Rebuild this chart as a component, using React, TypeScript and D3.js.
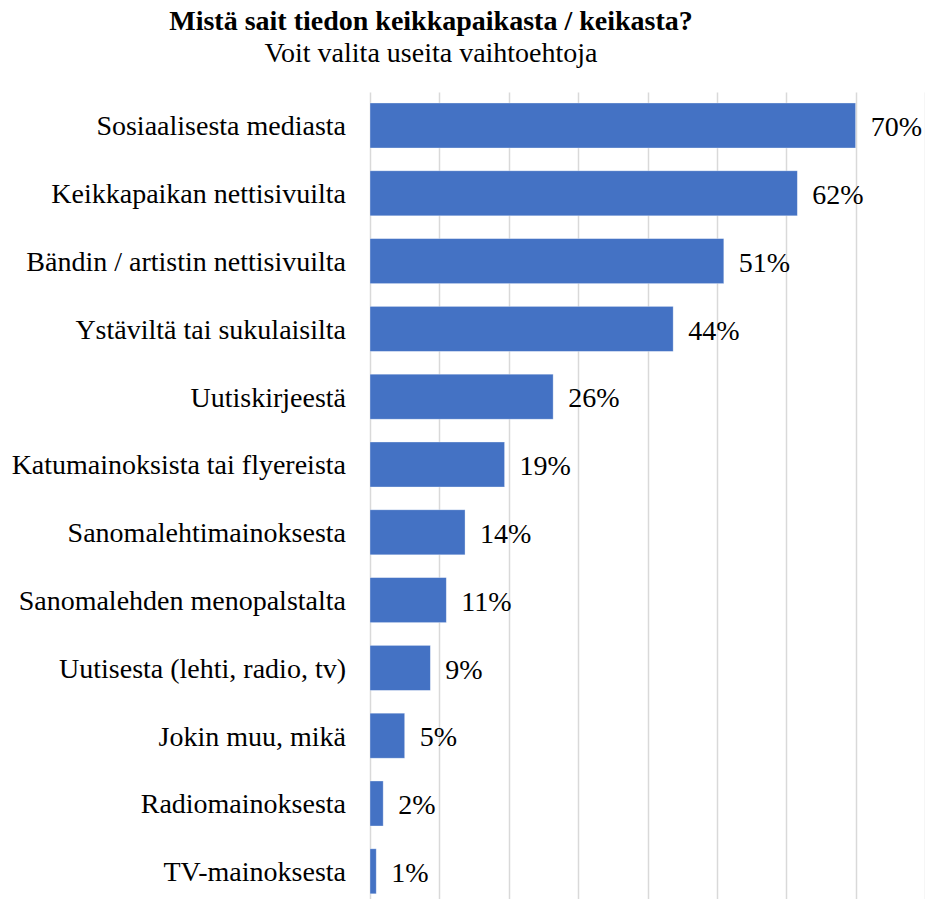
import React from "react";
import * as d3 from "d3";

const categories = [
  "Sosiaalisesta mediasta",
  "Keikkapaikan nettisivuilta",
  "Bändin / artistin nettisivuilta",
  "Ystäviltä tai sukulaisilta",
  "Uutiskirjeestä",
  "Katumainoksista tai flyereista",
  "Sanomalehtimainoksesta",
  "Sanomalehden menopalstalta",
  "Uutisesta (lehti, radio, tv)",
  "Jokin muu, mikä",
  "Radiomainoksesta",
  "TV-mainoksesta",
];
const values = [70, 61.6, 51, 43.7, 26.4, 19.4, 13.7, 11, 8.7, 5, 1.9, 0.9];
const valueLabels = ["70%", "62%", "51%", "44%", "26%", "19%", "14%", "11%", "9%", "5%", "2%", "1%"];
const gridTicks = [0, 10, 20, 30, 40, 50, 60, 70, 80];

const title = "Mistä sait tiedon keikkapaikasta / keikasta?";
const subtitle = "Voit valita useita vaihtoehtoja";

const W = 925;
const H = 899;
const FONT = '"Liberation Serif", "Times New Roman", Tinos, "DejaVu Serif", serif';
const fontStyle = { fontFamily: FONT };
const FS = 28;

export default function App() {
  const x = d3.scaleLinear().domain([0, 80]).range([370, 925]);
  const y = d3
    .scaleBand<string>()
    .domain(categories)
    .range([91.6, 91.6 + 67.8 * 12])
    .paddingInner(0.336)
    .paddingOuter(0.168);
  const bw = y.bandwidth();

  return (
    <svg
      width={W}
      height={H}
      style={{ position: "absolute", left: 0, top: 0, background: "#fff" }}
    >
      <rect x={0} y={0} width={W} height={H} fill="#fff" />
      <text x={431} y={29.5} textAnchor="middle" fontSize={FS} fontWeight="bold" fill="#000" style={fontStyle}>
        {title}
      </text>
      <text x={431} y={61.5} textAnchor="middle" fontSize={FS} fill="#000" style={fontStyle}>
        {subtitle}
      </text>
      {gridTicks.map((t) => (
        <line
          key={t}
          x1={Math.round(x(t)) + 0.5}
          x2={Math.round(x(t)) + 0.5}
          y1={92.5}
          y2={H}
          stroke="#d9d9d9"
          strokeWidth={1.5}
        />
      ))}
      {categories.map((c, i) => {
        const yc = (y(c) as number) + bw / 2;
        return (
          <g key={c}>
            <rect
              x={x(0)}
              y={y(c)}
              width={x(values[i]) - x(0)}
              height={bw}
              fill="#4472C4"
              stroke="#ffffff"
              strokeOpacity={0.45}
              strokeWidth={0.75}
            />
            <text x={346} y={yc} dy="0.35em" textAnchor="end" fontSize={FS} fill="#000" style={fontStyle}>
              {c}
            </text>
            <text x={x(values[i]) + 15} y={yc} dy="0.38em" fontSize={FS} fill="#000" style={fontStyle}>
              {valueLabels[i]}
            </text>
          </g>
        );
      })}
    </svg>
  );
}
